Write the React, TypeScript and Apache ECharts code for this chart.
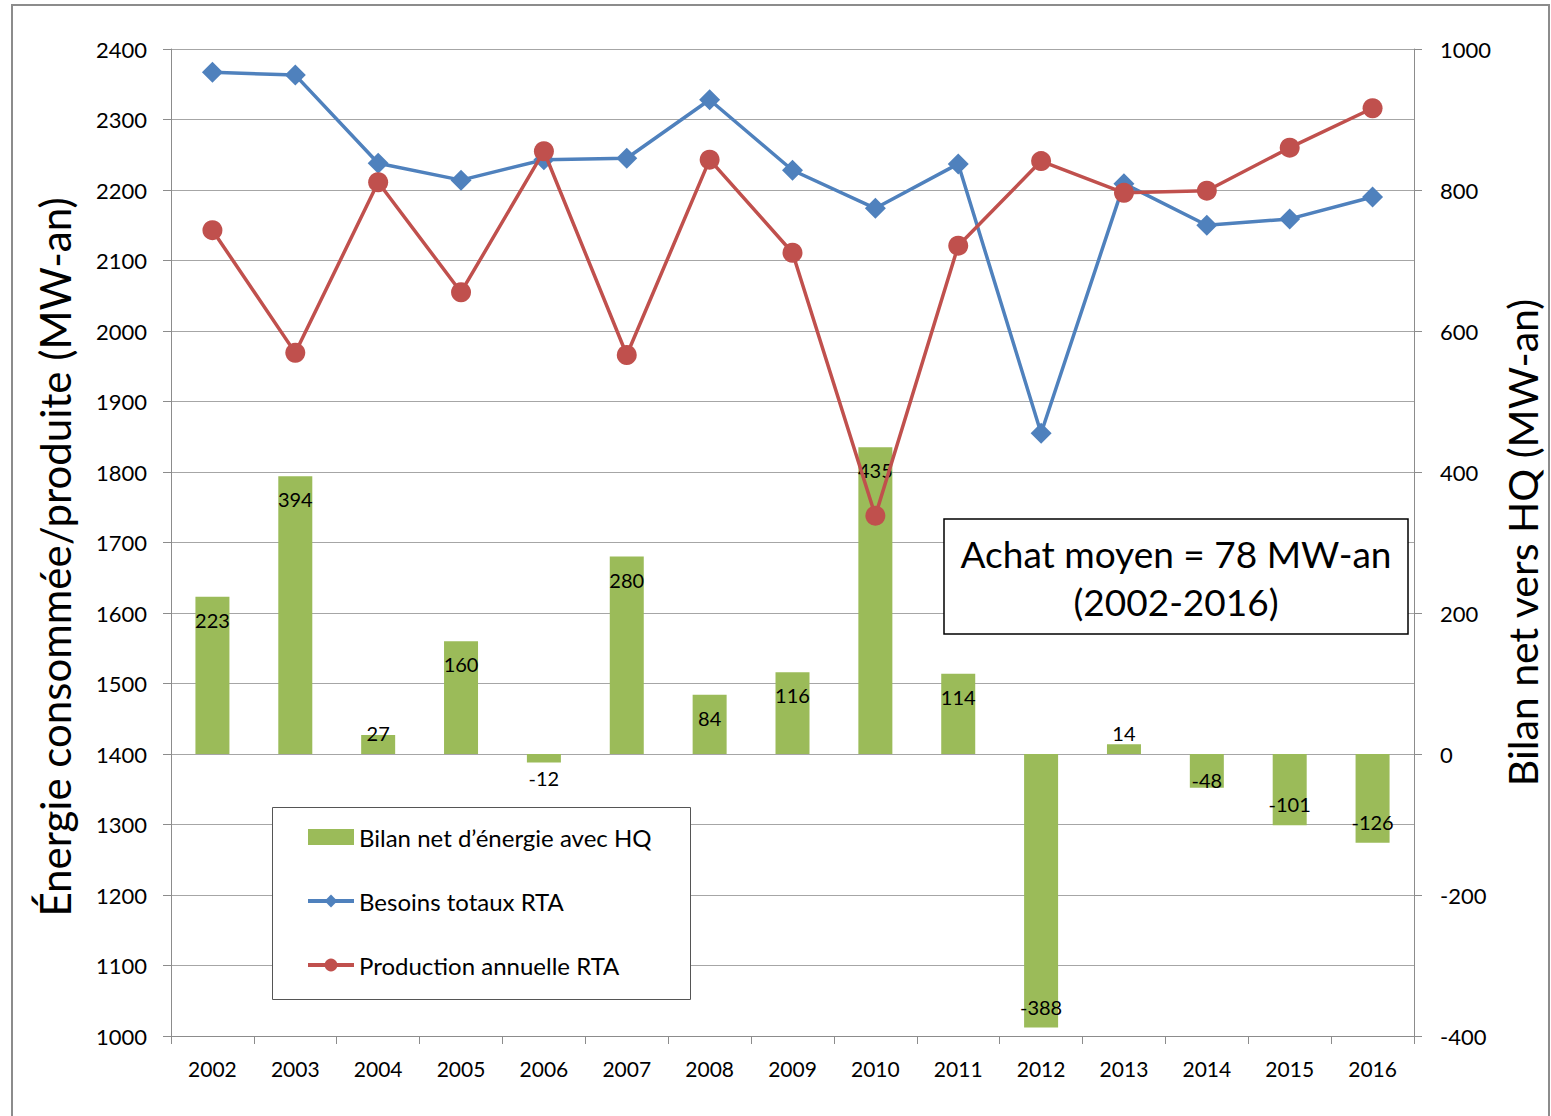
import React, { useEffect, useRef } from "react";
import * as echarts from "echarts";

const years = ["2002","2003","2004","2005","2006","2007","2008","2009","2010","2011","2012","2013","2014","2015","2016"];
const bilanNet = [223, 394, 27, 160, -12, 280, 84, 116, 435, 114, -388, 14, -48, -101, -126];
const besoinsTotaux = [2367, 2363, 2238, 2214, 2243, 2245, 2328, 2228, 2174, 2237, 1855, 2209, 2150, 2159, 2190];
const productionAnnuelle = [2143, 1969, 2211, 2055, 2255, 1966, 2243, 2111, 1738, 2121, 2241, 2196, 2199, 2260, 2316];

const FONT = "Lato";

export default function App() {
  const ref = useRef<HTMLDivElement>(null);
  useEffect(() => {
    document.body.style.margin = "0";
    const chart = echarts.init(ref.current!, null, { renderer: "svg" });
    const barData = bilanNet.map((v) => {
      let position = v >= 0 ? "insideTop" : "insideBottom";
      let distance = v >= 0 ? 13 : 11;
      if (v >= 0 && v < 20) { position = "top"; distance = 1; }
      else if (v >= 0 && v < 40) { position = "top"; distance = -8; }
      else if (v < 0 && v > -20) { position = "bottom"; distance = 6; }
      else if (v < 0 && v > -60) { distance = -2; }
      return { value: v, label: { position, distance } };
    });
    chart.setOption({
      animation: false,
      textStyle: { fontFamily: FONT },
      grid: { left: 171, right: 134, top: 49, bottom: 80 },
      xAxis: {
        type: "category",
        data: years,
        boundaryGap: true,
        axisLine: { onZero: false, lineStyle: { color: "#8c8c8c", width: 1 } },
        axisTick: { show: true, length: 8, lineStyle: { color: "#8c8c8c" } },
        axisLabel: { fontSize: 21, color: "#000", margin: 22, fontFamily: FONT },
      },
      yAxis: [
        {
          type: "value",
          min: 1000,
          max: 2400,
          interval: 100,
          axisLine: { show: true, lineStyle: { color: "#8c8c8c" } },
          axisTick: { show: true, length: 8, lineStyle: { color: "#8c8c8c" } },
          axisLabel: { fontSize: 22, color: "#000", margin: 24, fontFamily: FONT, formatter: (v: number) => String(v) },
          splitLine: { lineStyle: { color: "#a6a6a6", width: 1 } },
        },
        {
          type: "value",
          min: -400,
          max: 1000,
          interval: 200,
          name: "Bilan net vers HQ (MW-an)",
          nameLocation: "middle",
          nameGap: 88,
          nameRotate: 90,
          nameTextStyle: { fontSize: 41, color: "#000", fontFamily: FONT },
          axisLine: { show: true, lineStyle: { color: "#8c8c8c" } },
          axisTick: { show: true, length: 8, lineStyle: { color: "#8c8c8c" } },
          axisLabel: { fontSize: 22, color: "#000", margin: 26, fontFamily: FONT, formatter: (v: number) => String(v) },
          splitLine: { show: false },
        },
      ],
      legend: {
        orient: "vertical",
        left: 301,
        top: 820,
        itemWidth: 46,
        itemHeight: 16,
        itemGap: 40,
        lineStyle: { width: 4 },
        textStyle: { fontSize: 24, color: "#000", fontFamily: FONT, lineHeight: 24 },
        data: [
          { name: "Bilan net d’énergie avec HQ", icon: "rect" },
          { name: "Besoins totaux RTA" },
          { name: "Production annuelle RTA" },
        ],
        z: 10,
      },
      graphic: [
        {
          type: "rect",
          shape: { x: 12, y: 5, width: 1537, height: 1120 },
          style: { fill: "none", stroke: "#8c8c8c", lineWidth: 2 },
          z: 0,
          silent: true,
        },
        {
          type: "text",
          x: 55,
          y: 557,
          rotation: Math.PI / 2,
          z: 6,
          style: {
            text: "Énergie consommée/produite (MW-an)",
            fontSize: 42,
            fontFamily: FONT,
            fill: "#000",
            align: "center",
            verticalAlign: "middle",
          },
        },
        {
          type: "rect",
          shape: { x: 272.5, y: 807.5, width: 418, height: 192 },
          style: { fill: "#fff", stroke: "#555", lineWidth: 1 },
          z: 5,
        },
        {
          type: "rect",
          shape: { x: 944, y: 519, width: 464, height: 115 },
          style: { fill: "#fff", stroke: "#000", lineWidth: 1.5 },
          z: 5,
        },
        {
          type: "text",
          x: 1176,
          y: 577,
          z: 6,
          style: {
            text: "Achat moyen = 78 MW-an\n(2002-2016)",
            fontSize: 37,
            fontFamily: FONT,
            fill: "#000",
            align: "center",
            verticalAlign: "middle",
            lineHeight: 48,
          },
        },
      ],
      series: [
        {
          name: "Bilan net d’énergie avec HQ",
          type: "bar",
          yAxisIndex: 1,
          data: barData,
          barWidth: 34,
          itemStyle: { color: "#9BBB59" },
          label: { show: true, fontSize: 20, color: "#000", fontFamily: FONT },
          z: 1,
        },
        {
          name: "Besoins totaux RTA",
          type: "line",
          yAxisIndex: 0,
          data: besoinsTotaux,
          symbol: "diamond",
          symbolSize: 21,
          lineStyle: { color: "#4F81BD", width: 3.5 },
          itemStyle: { color: "#4F81BD" },
          z: 3,
        },
        {
          name: "Production annuelle RTA",
          type: "line",
          yAxisIndex: 0,
          data: productionAnnuelle,
          symbol: "circle",
          symbolSize: 20,
          lineStyle: { color: "#C0504D", width: 3.5 },
          itemStyle: { color: "#C0504D" },
          z: 4,
        },
      ],
    });
    return () => chart.dispose();
  }, []);
  return <div ref={ref} style={{ width: 1551, height: 1116 }} />;
}
